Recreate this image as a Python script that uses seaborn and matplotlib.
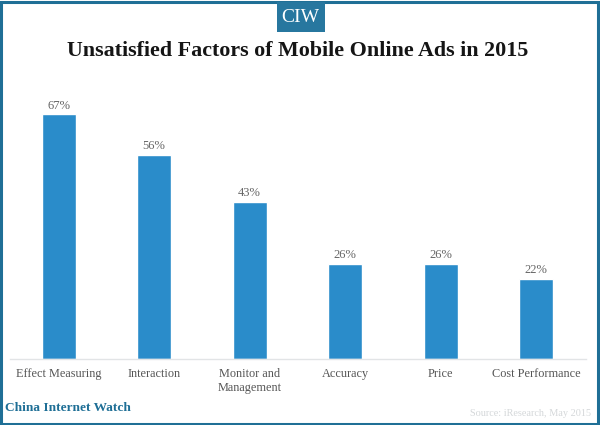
import matplotlib
matplotlib.use("Agg")
import matplotlib.pyplot as plt
import seaborn as sns
import pandas as pd
from matplotlib.patches import Rectangle

categories = ["Effect Measuring", "Interaction", "Monitor and\nManagement", "Accuracy", "Price", "Cost Performance"]
values = [67, 56, 43, 26, 26, 22]

W, H = 600, 425
sns.set_theme(style="white")
plt.rcParams['font.family'] = ['Liberation Serif', 'DejaVu Serif']
fig = plt.figure(figsize=(W/100, H/100), dpi=100, facecolor="white")
ax = fig.add_axes([10/W, (H-359)/H, 576/W, 279/H])
df = pd.DataFrame({"cat": categories, "val": values})
sns.barplot(data=df, x="cat", y="val", color="#2a8cca", saturation=1, width=0.356, ax=ax)
ax.set_xlim(-0.508, 5.523)
ax.set_ylim(0, 279/3.65)
ax.set_xlabel(""); ax.set_ylabel("")
ax.set_yticks([])
for s in ["top", "left", "right"]:
    ax.spines[s].set_visible(False)
ax.spines["bottom"].set_color("#e2e4e6")
ax.spines["bottom"].set_linewidth(1)
ax.tick_params(axis="x", length=0, pad=6.5, labelsize=8.8, labelcolor="#555555")
for lab in ax.get_xticklabels():
    lab.set_linespacing(1.18)
for c in ax.containers:
    ax.bar_label(c, labels=[f"{v}%" for v in values], padding=2, fontsize=9, color="#666666")

fig.add_artist(Rectangle((1/W, 1.5/H), 597/W, 421.5/H, transform=fig.transFigure, fill=False,
                         edgecolor="#1f6f96", linewidth=2.2))
fig.add_artist(Rectangle((277/W, (H-32)/H), 48/W, 30/H, transform=fig.transFigure, fill=True,
                         facecolor="#27779f", edgecolor="none"))
fig.text(300/W, (H-17)/H, "CIW", color="white", fontsize=14, ha="center", va="center")
fig.text(297.5/W, (H-51)/H, "Unsatisfied Factors of Mobile Online Ads in 2015", color="#151515",
         fontsize=15.8, fontweight="bold", ha="center", va="center")
fig.text(5/W, (H-408)/H, "China Internet Watch", color="#1f6f96", fontsize=9.6, fontweight="bold", ha="left", va="center")
fig.text(591/W, (H-414)/H, "Source: iResearch, May 2015", color="#d5d8da", fontsize=7.4, ha="right", va="center")
fig.savefig("out.png", dpi=100)
